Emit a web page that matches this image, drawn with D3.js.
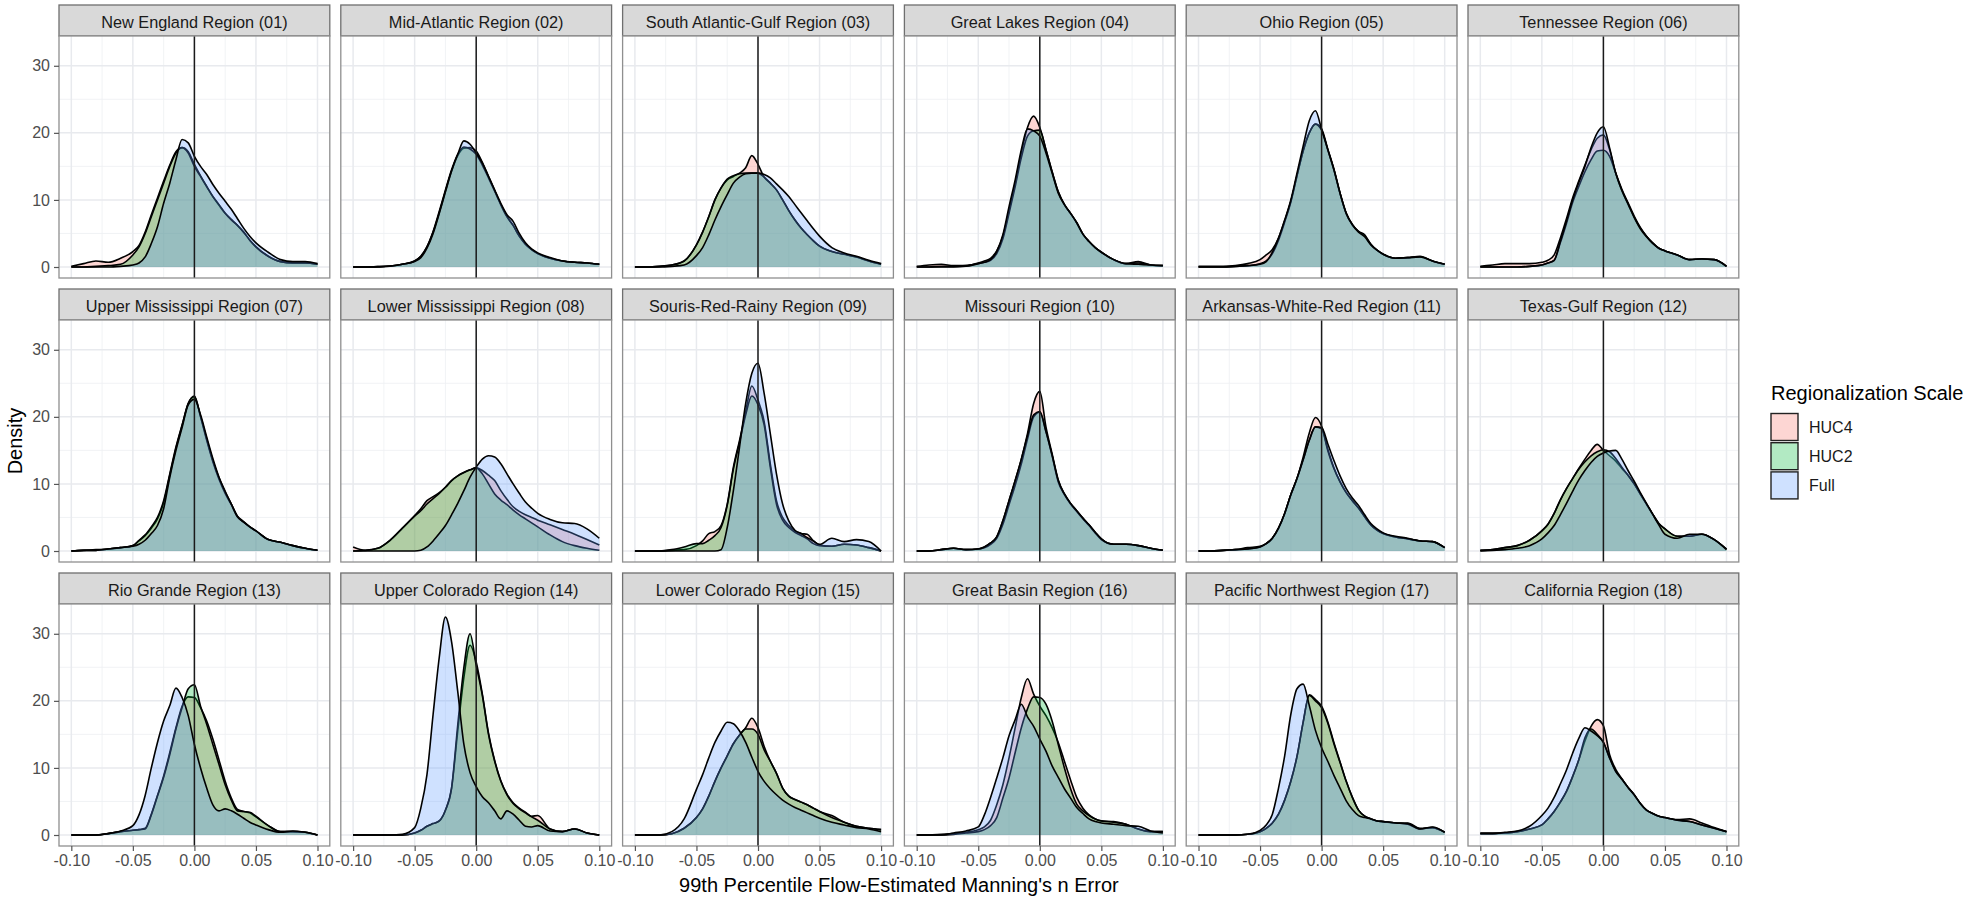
<!DOCTYPE html>
<html>
<head>
<meta charset="utf-8">
<script src="https://cdn.jsdelivr.net/npm/d3@7"></script>
<style>
  body { margin: 0; background: #fff; }
  svg { display: block; font-family: "Liberation Sans", Arial, Helvetica, sans-serif; }
</style>
</head>
<body>
<svg id="chart" width="1972" height="902"></svg>
<script>
const xGrid = [-0.1, -0.09, -0.08, -0.07, -0.06,
  -0.05, -0.045, -0.04, -0.035, -0.03, -0.025, -0.02, -0.015, -0.01, -0.005, 0,
  0.005, 0.01, 0.015, 0.02, 0.025, 0.03, 0.035, 0.04, 0.045, 0.05,
  0.06, 0.07, 0.08, 0.09, 0.1];

const regions = [
  "New England Region (01)", "Mid-Atlantic Region (02)", "South Atlantic-Gulf Region (03)",
  "Great Lakes Region (04)", "Ohio Region (05)", "Tennessee Region (06)",
  "Upper Mississippi Region (07)", "Lower Mississippi Region (08)", "Souris-Red-Rainy Region (09)",
  "Missouri Region (10)", "Arkansas-White-Red Region (11)", "Texas-Gulf Region (12)",
  "Rio Grande Region (13)", "Upper Colorado Region (14)", "Lower Colorado Region (15)",
  "Great Basin Region (16)", "Pacific Northwest Region (17)", "California Region (18)"
];

const scaleNames = ["HUC4", "HUC2", "Full"];

const huc4Density = [
  [0.1,0.5,0.9,0.7,1.3, 2.3,3.2,5.2,7.8,10.3,12.8,15.2,17.2,17.8,17.2,15.3, 13.6,12,10.5,9.2,8,7.1,6.2,5.2,4,3, 1.6,0.8,0.6,0.6,0.4],
  [0,0,0.05,0.15,0.4, 0.9,1.6,3,5.2,8.1,11.3,14.3,16.6,17.7,17.8,17.3, 15.6,13.5,11.4,9.3,7.5,6.2,4.6,3.4,2.6,2, 1.3,0.9,0.7,0.6,0.4],
  [0,0,0.1,0.3,0.9, 3.3,5.2,7.5,10,11.8,13,13.5,14,14.8,16.6,15.3, 13.4,12.5,11.5,10,8.4,7,5.8,4.8,3.9,3.1, 2.3,1.9,1.5,0.9,0.4],
  [0.1,0.3,0.4,0.2,0.2, 0.6,0.9,1.3,2.4,4.6,8.4,12.5,17,20.8,22.5,20.8, 17.5,14.2,11.2,9.3,8,6.6,4.9,3.8,2.9,2.2, 1.1,0.5,0.8,0.3,0.2],
  [0.1,0.1,0.1,0.2,0.5, 1.1,1.8,2.6,4.3,6.9,9.8,13.6,17.3,20,21.3,20.6, 17.6,14.6,11,8,6.3,5.3,4.6,3.4,2.5,1.9, 1.3,1.4,1.5,0.9,0.4],
  [0.1,0.3,0.5,0.5,0.5, 0.7,1,1.8,4.3,7.2,10.3,12.8,15.2,17.5,19.2,19.7, 17.5,14,11.4,9.4,7.4,5.8,4.6,3.6,2.8,2.4, 1.8,1.1,1.2,1.1,0.1],
  [0,0.1,0.2,0.3,0.5, 0.8,1.5,2.3,3.4,4.8,7.2,11.3,15.3,18.7,22,23, 20.1,16.7,13.5,10.9,8.8,7,5.2,4.4,3.6,3, 1.7,1.3,0.8,0.4,0.1],
  [0.6,0.1,0.4,1.6,3.4, 5.3,6.3,7.5,8.1,8.7,9.5,10.5,11.2,11.7,12.1,12.4, 12,11.3,10.5,9,7.7,6.6,5.9,5.4,5,4.6, 3.9,3.2,2.5,1.7,0.9],
  [0,0,0,0.1,0.2, 0.8,1.5,2.6,2.9,3.8,7,12.5,16.5,20.8,24.6,22.5, 19.3,13,7.5,5,3.8,3,2.6,2.5,1.5,0.9, 0.7,1,0.9,0.5,0],
  [0,0,0.2,0.4,0.2, 0.3,0.6,1.2,2.1,4.5,7.5,10.5,13.7,17.5,22,23.8, 18.5,14.5,10.6,8.5,7.1,6,4.9,3.9,2.8,1.8, 1,1,0.8,0.4,0.1],
  [0,0,0.1,0.2,0.5, 0.7,1.1,1.9,3.4,5.6,8.4,10.8,14,17.6,19.9,18.6, 15.2,12.4,10.3,8.7,7.5,6.4,5.1,3.9,3.1,2.6, 2.1,1.8,1.5,1.4,0.5],
  [0.1,0.2,0.5,0.8,1.6, 3,4,5.6,7.6,9.3,10.8,12.3,13.7,15,15.9,15, 14.2,13.4,12.3,11.3,10,8.5,7,5.5,4.1,3.3, 2.2,2.2,2.5,1.7,0.3],
  [0,0,0,0.2,0.5, 0.7,0.8,1,3.1,5.9,8.8,12.3,16,19.2,20.6,20.5, 19,17,14.3,11.2,8,5.5,3.8,3.5,3.3,2.7, 1.4,0.5,0.5,0.4,0],
  [0,0,0,0,0, 0.3,0.7,1.3,1.7,2.1,3.7,7,15.5,23.5,28.3,25.8, 21,15.2,11.1,8.1,6.1,4.8,4,3.4,2.8,2.9, 0.9,0.5,0.9,0.3,0],
  [0,0,0,0.2,1, 2.6,3.9,5.8,8,10,11.8,13.6,14.9,16,17.4,16, 13.2,11,9.2,7,5.8,5.3,4.9,4.5,4,3.5, 2.9,1.9,1.3,1,0.8],
  [0,0,0.1,0.2,0.4, 0.8,1.2,2.2,4.5,7.5,11.5,16,20.5,23.3,21,19.2, 17.8,16,13.8,11,8.2,5.6,4,3,2.4,2.1, 2,1.6,0.9,0.5,0.5],
  [0,0,0,0,0.1, 0.5,1,1.8,3.1,5.2,8,11.7,16.8,20.9,20.2,19.2, 16.9,13.8,10.9,8,5.6,3.7,2.8,2.4,2.1,2, 1.8,1.8,1,1.1,0.4],
  [0.3,0.3,0.3,0.5,0.9, 1.5,2.4,3.5,4.9,6.5,8.7,11.2,14,16.2,17.2,16.3, 12,9.8,8.4,7.1,6,4.7,3.7,3.2,2.8,2.6, 2.3,2.4,1.8,1.1,0.5]
];

const huc2Density = [
  [0,0,0.1,0.2,0.4, 1.8,3,5,7.5,10,12.5,15,17,17.8,17,15, 13.5,12,10.5,9.3,8,7,6.2,5.2,4,3, 1.6,0.8,0.6,0.6,0.4],
  [0,0,0.05,0.15,0.4, 0.9,1.6,3,5.3,8.3,11.5,14.5,16.8,17.9,17.6,16.8, 15.2,13.3,11.3,9.3,7.5,6.2,4.6,3.4,2.6,2, 1.3,0.9,0.7,0.6,0.4],
  [0,0,0.1,0.3,0.9, 3.3,5.2,7.5,10,11.8,13.1,13.6,13.9,14,14,14, 13.4,12.5,11.5,10,8.4,7,5.8,4.8,3.9,3.1, 2.3,1.9,1.5,0.9,0.4],
  [0,0,0.1,0.1,0.2, 0.5,0.7,1,2,4.2,8,12,16.3,19.5,20.3,20.4, 17.5,14.2,11.2,9.3,8,6.6,4.9,3.8,2.9,2.2, 1.1,0.5,0.6,0.3,0.2],
  [0,0,0,0.1,0.2, 0.5,0.9,2,4,6.7,9.7,13.6,17.3,20,21.3,20.4, 17.5,14.5,11,8,6.3,5.3,4.8,3.4,2.5,1.9, 1.3,1.4,1.6,0.9,0.4],
  [0,0,0,0,0.1, 0.3,0.6,1,3.6,6.5,9.6,12,14.2,16,17.3,17.4, 16.5,14,11.6,9.6,7.6,5.9,4.6,3.6,2.8,2.4, 1.8,1.1,1.2,1.1,0.1],
  [0,0.1,0.1,0.3,0.5, 0.8,1.6,2.4,3.6,5,7.5,11.5,15.5,18.8,22,23.1, 20,16.5,13.3,10.7,8.6,6.9,5.1,4.3,3.6,3, 1.7,1.3,0.8,0.4,0.1],
  [0,0.1,0.4,1.6,3.4, 5.2,6,7,7.8,8.6,9.5,10.5,11.2,11.7,12.1,12.4, 11.5,10,8.5,7.6,6.9,6.1,5.4,4.8,4.2,3.6, 2.4,1.4,0.8,0.4,0.1],
  [0,0,0,0.2,0.6, 1.1,1.1,1.6,2.3,3.5,6.8,12.2,16.2,20.3,23.1,21.8, 18.8,12.5,7,4.6,3.5,2.8,2.3,1.8,1.1,0.8, 0.7,1,0.9,0.5,0],
  [0,0,0.2,0.4,0.2, 0.3,0.5,1,1.9,4,6.9,9.8,13,16.7,20,20.7, 17.8,14.2,10.3,8.4,7,5.9,4.8,3.8,2.7,1.7, 1,1,0.8,0.4,0.1],
  [0,0,0.1,0.2,0.3, 0.6,1.1,1.9,3.4,5.6,8.4,10.8,13.6,16.5,18.5,18.2, 15,12.3,10.3,8.7,7.5,6.4,5.1,3.9,3.1,2.6, 2.1,1.8,1.5,1.4,0.5],
  [0.1,0.2,0.5,0.8,1.6, 3,4,5.6,7.6,9.3,10.8,12.2,13.3,14.2,14.8,15.1, 14.8,13.8,12.5,11.3,10,8.5,7,5.5,4.1,3.3, 2.2,2.2,2.5,1.7,0.3],
  [0,0,0,0.2,0.5, 0.7,0.8,0.9,3,5.8,8.6,12,15.8,19,21.8,22.4, 19.2,16.5,13.5,10.5,7.5,5.2,3.6,3.5,3.4,2.8, 1.4,0.5,0.5,0.4,0],
  [0,0,0,0,0, 0.3,0.7,1.3,1.7,2.1,3.7,7,16.4,25,30,25.3, 20.8,15,11,8,6,4.7,3.9,3.3,2.7,2.2, 0.9,0.5,0.9,0.3,0],
  [0,0,0,0.2,1, 2.6,3.9,5.8,8,10,11.8,13.6,14.9,15.8,15.8,15, 12.7,11,9.2,7,5.8,5.3,4.9,4.5,4,3.5, 2.6,1.9,1.3,1,0.8],
  [0,0,0,0.1,0.3, 0.5,0.8,1.4,2.6,5.5,8.5,12.3,16,18.8,20.6,20.5, 19.5,17,13.5,10,6.9,4.6,3.6,2.9,2.4,2.1, 1.9,1.6,0.9,0.5,0.5],
  [0,0,0,0,0.1, 0.5,1,1.8,3.1,5.2,8,11.7,16.8,20.8,20,19, 16.7,13.6,10.8,8,5.6,3.7,2.8,2.4,2.1,2, 1.8,1.6,0.9,1.1,0.4],
  [0.2,0.2,0.3,0.5,0.9, 1.5,2.4,3.5,4.9,6.5,8.7,11.2,14.5,15.8,15,13.8, 11.5,9.5,8.3,7.1,6,4.7,3.7,3.2,2.8,2.6, 2.2,2,1.5,1,0.5]
];

const fullDensity = [
  [0,0,0,0,0.1, 0.3,0.6,1.5,3.5,6,9.5,12.5,16,19,18.5,16.5, 15,13.8,12.3,11,9.8,8.6,7.2,5.8,4.6,3.6, 2.2,1.1,0.8,0.8,0.5],
  [0,0,0,0.1,0.4, 0.8,1.4,2.8,5,8,11.2,14.3,16.8,18.8,18.3,17, 15.5,13.5,11.5,9.5,7.8,6.8,5,3.6,2.7,2.1, 1.4,0.9,0.7,0.6,0.4],
  [0,0,0,0.1,0.3, 1.7,2.9,4.8,7,9,10.8,12.5,13.4,13.9,14,14, 13.8,13.3,12.4,11.5,10.5,9.3,8.1,6.9,5.7,4.6, 2.9,2.1,1.6,1,0.5],
  [0,0,0,0,0.1, 0.5,0.7,1.1,2.3,4.8,9,13,17.5,20.6,20.3,19.5, 17,14,11,9.3,8,6.6,4.9,3.8,2.9,2.2, 1.1,0.5,0.4,0.3,0.2],
  [0,0,0,0.1,0.2, 0.4,0.8,2.2,4.3,7,10,14,18,21.8,23.3,20.5, 17.5,14.5,11,8,6.3,5.2,4.5,3.3,2.5,1.9, 1.3,1.4,1.5,0.9,0.4],
  [0,0,0,0,0.1, 0.3,0.6,1,3.8,6.8,10,12.6,15,17.8,20,20.9, 17.8,14,11.4,9.4,7.4,5.7,4.5,3.5,2.8,2.4, 1.8,1.1,1.2,1.1,0.1],
  [0,0.1,0.1,0.3,0.5, 0.7,1,1.6,2.6,3.8,6.3,11,15,18.4,21.8,22.6, 20.3,17,13.8,11,8.9,7,5.1,4.3,3.6,3, 1.7,1.3,0.8,0.4,0.1],
  [0,0,0,0,0, 0,0.1,0.6,1.5,2.6,3.8,5.4,7.1,9,11,12.5, 13.7,14.2,14,13,11.5,10,8.6,7.3,6.4,5.6, 4.7,4.2,4.1,3.3,1.9],
  [0,0,0,0,0, 0,0,0,0,0.2,3.5,9,15.5,22,26.5,28, 23.5,17.5,11.5,7,4.5,3.1,2.6,2,1.5,1, 1.9,1.4,1.7,1.4,0],
  [0,0,0.2,0.4,0.2, 0.3,0.6,1.2,2.1,4.5,7.5,10.5,13.7,17.2,20.3,20.8, 17.8,14.3,10.5,8.5,7.1,6,4.9,3.9,2.8,1.8, 1,1,0.8,0.4,0.1],
  [0,0,0.1,0.2,0.3, 0.6,1.1,1.9,3.4,5.6,8.4,10.8,13.6,16.5,18.5,18.4, 16,13.5,11.2,9.3,7.9,6.8,5.4,4.1,3.3,2.7, 2.2,1.9,1.5,1.4,0.5],
  [0,0.1,0.2,0.4,0.8, 1.8,2.7,3.8,5.4,7.1,8.9,10.6,12,13.2,14.1,14.6, 14.9,15,13.7,12,10.4,8.7,7.1,5.5,3.9,2.5, 1.9,2.5,2.5,1.7,0.2],
  [0,0,0,0.2,0.6, 1.4,3,5.9,10,13.8,17,19.3,21.9,20.5,17.8,13.5, 10,7,4.5,3.6,3.9,3.6,3.1,2.5,1.9,1.5, 0.8,0.4,0.6,0.4,0],
  [0,0,0,0,0.1, 1.1,4,9,18,26.5,32.5,28.8,21.4,13.5,9.3,7.2, 5.7,4.8,3.6,2.4,3.6,3.1,2.2,1.3,1.2,1.4, 0.6,0.5,0.9,0.3,0],
  [0,0,0,0.5,2.4, 6.8,9,11.5,13.8,15.5,16.8,16.6,15.5,13.8,11.6,9.5, 8,6.9,6,5.2,4.6,4.1,3.7,3.3,2.9,2.5, 1.9,1.5,1.1,0.9,0.5],
  [0,0,0,0.3,0.6, 1.2,3,5.6,8.5,11.5,14.8,17.2,19.5,17.6,16.2,14.3, 12.5,10.3,8.6,6.9,5.5,4.1,3.2,2.4,2,1.8, 1.6,1.4,1.3,0.6,0.3],
  [0,0,0,0,0.1, 0.7,1.5,3.1,7,11.8,18,21.8,22.5,19.3,15.6,13, 11,8.9,7,5.1,3.8,2.9,2.6,2.4,2.1,2, 1.8,1.7,0.9,1.2,0.4],
  [0.2,0.2,0.4,0.6,1.3, 2.9,4,5.6,7.6,9.7,12.2,14.4,16,15.5,14.8,13.8, 11.5,9.5,8.3,7.1,6,4.7,3.7,3.2,2.8,2.6, 2.2,2,1.5,1,0.5]
];

const xTicks = [-0.1, -0.05, 0, 0.05, 0.1];
const xMinor = [-0.075, -0.025, 0.025, 0.075];
const yTicks = [0, 10, 20, 30];
const yMinor = [5, 15, 25];

function drawFacets() {
    const svg = d3.select("#chart");
    const cols = 6,
        left = 59,
        top = 5,
        panelW = 270.8,
        panelH = 242,
        stripH = 31,
        gapX = 11,
        rowStep = 284;
    const nRows = Math.ceil(regions.length / cols);

    const colorScale = d3.scaleOrdinal()
        .domain(scaleNames)
        .range(["#F8766D", "#00BA38", "#619CFF"]);

    const x = d3.scaleLinear().domain([-0.11, 0.11]).range([0, panelW]);
    const y = d3.scaleLinear().domain([-1.64, 34.44]).range([panelH, 0]);

    const area = d3.area()
        .x((d, i) => x(xGrid[i]))
        .y0(y(0))
        .y1(d => y(d))
        .curve(d3.curveMonotoneX);
    const line = d3.line()
        .x((d, i) => x(xGrid[i]))
        .y(d => y(d))
        .curve(d3.curveMonotoneX);

    const seriesByScale = [huc4Density, huc2Density, fullDensity];

    regions.forEach((name, k) => {
        const col = k % cols, row = Math.floor(k / cols);
        const gx = left + col * (panelW + gapX);
        const gy = top + row * rowStep;

        // strip
        const strip = svg.append("g").attr("transform", `translate(${gx},${gy})`);
        strip.append("rect")
            .attr("width", panelW).attr("height", stripH)
            .attr("fill", "#d9d9d9")
            .attr("stroke", "#6f6f6f").attr("stroke-width", 1.3);
        strip.append("text")
            .attr("x", panelW / 2).attr("y", stripH / 2 + 1)
            .attr("text-anchor", "middle")
            .attr("dominant-baseline", "central")
            .attr("font-size", 16.3)
            .attr("fill", "#1a1a1a")
            .text(name);

        const g = svg.append("g").attr("transform", `translate(${gx},${gy + stripH})`);
        g.append("rect").attr("width", panelW).attr("height", panelH).attr("fill", "#fff");

        // grid
        g.selectAll(".xminor").data(xMinor).enter().append("line")
            .attr("x1", d => x(d)).attr("x2", d => x(d)).attr("y1", 0).attr("y2", panelH)
            .attr("stroke", "#eef0f3").attr("stroke-width", 0.8);
        g.selectAll(".yminor").data(yMinor).enter().append("line")
            .attr("y1", d => y(d)).attr("y2", d => y(d)).attr("x1", 0).attr("x2", panelW)
            .attr("stroke", "#eef0f3").attr("stroke-width", 0.8);
        g.selectAll(".xmajor").data(xTicks).enter().append("line")
            .attr("x1", d => x(d)).attr("x2", d => x(d)).attr("y1", 0).attr("y2", panelH)
            .attr("stroke", "#e8eaee").attr("stroke-width", 1.5);
        g.selectAll(".ymajor").data(yTicks).enter().append("line")
            .attr("y1", d => y(d)).attr("y2", d => y(d)).attr("x1", 0).attr("x2", panelW)
            .attr("stroke", "#e8eaee").attr("stroke-width", 1.5);

        // densities: HUC4, HUC2, Full in that order
        seriesByScale.forEach((arr, s) => {
            const vals = arr[k];
            g.append("path")
                .attr("d", area(vals))
                .attr("fill", colorScale(scaleNames[s]))
                .attr("fill-opacity", 0.3);
            g.append("path")
                .attr("d", line(vals))
                .attr("fill", "none")
                .attr("stroke", "#000")
                .attr("stroke-width", 1.6)
                .attr("stroke-linejoin", "round");
        });

        // zero line
        g.append("line")
            .attr("x1", x(0)).attr("x2", x(0)).attr("y1", 0).attr("y2", panelH)
            .attr("stroke", "#1a1a1a").attr("stroke-width", 1.5);

        g.append("rect").attr("width", panelW).attr("height", panelH)
            .attr("fill", "none").attr("stroke", "#8f8f8f").attr("stroke-width", 1.3);

        if (col === 0) {
            const ax = g.append("g").call(d3.axisLeft(y).tickValues(yTicks).tickSize(5).tickPadding(4));
            ax.select(".domain").remove();
            ax.attr("font-family", null).attr("font-size", null);
            ax.selectAll("line").attr("stroke", "#555").attr("stroke-width", 1.2);
            ax.selectAll("text").attr("font-size", 16).attr("fill", "#4d4d4d");
        }
        if (row === nRows - 1) {
            const ax = g.append("g").attr("transform", `translate(0,${panelH})`)
                .call(d3.axisBottom(x).tickValues(xTicks).tickSize(5).tickPadding(4)
                    .tickFormat(d => d.toFixed(2)));
            ax.select(".domain").remove();
            ax.attr("font-family", null).attr("font-size", null);
            ax.selectAll("line").attr("stroke", "#555").attr("stroke-width", 1.2);
            ax.selectAll("text").attr("font-size", 16).attr("fill", "#4d4d4d");
        }
    });

    const plotRight = left + cols * panelW + (cols - 1) * gapX;
    const panelsTop = top + stripH;
    const panelsBottom = top + (nRows - 1) * rowStep + stripH + panelH;

    svg.append("text")
        .attr("transform", `translate(15,${(panelsTop + panelsBottom) / 2}) rotate(-90)`)
        .attr("text-anchor", "middle")
        .attr("dominant-baseline", "central")
        .attr("font-size", 20)
        .attr("fill", "#000")
        .text("Density");

    svg.append("text")
        .attr("x", (left + plotRight) / 2)
        .attr("y", 885)
        .attr("text-anchor", "middle")
        .attr("dominant-baseline", "central")
        .attr("font-size", 20)
        .attr("fill", "#000")
        .text("99th Percentile Flow-Estimated Manning's n Error");

    // legend
    const legend = svg.append("g").attr("transform", "translate(1771,0)");
    legend.append("text")
        .attr("x", 0).attr("y", 400)
        .attr("font-size", 20)
        .attr("fill", "#000")
        .text("Regionalization Scale");
    const keys = legend.selectAll(".key").data(scaleNames).enter().append("g")
        .attr("transform", (d, i) => `translate(0,${413.5 + i * 29.2})`);
    keys.append("rect")
        .attr("width", 27).attr("height", 27)
        .attr("fill", d => colorScale(d)).attr("fill-opacity", 0.3)
        .attr("stroke", "#222").attr("stroke-width", 1.4);
    keys.append("text")
        .attr("x", 38).attr("y", 14)
        .attr("dominant-baseline", "central")
        .attr("font-size", 16)
        .attr("fill", "#1a1a1a")
        .text(d => d);
}

drawFacets();
</script>
</body>
</html>
